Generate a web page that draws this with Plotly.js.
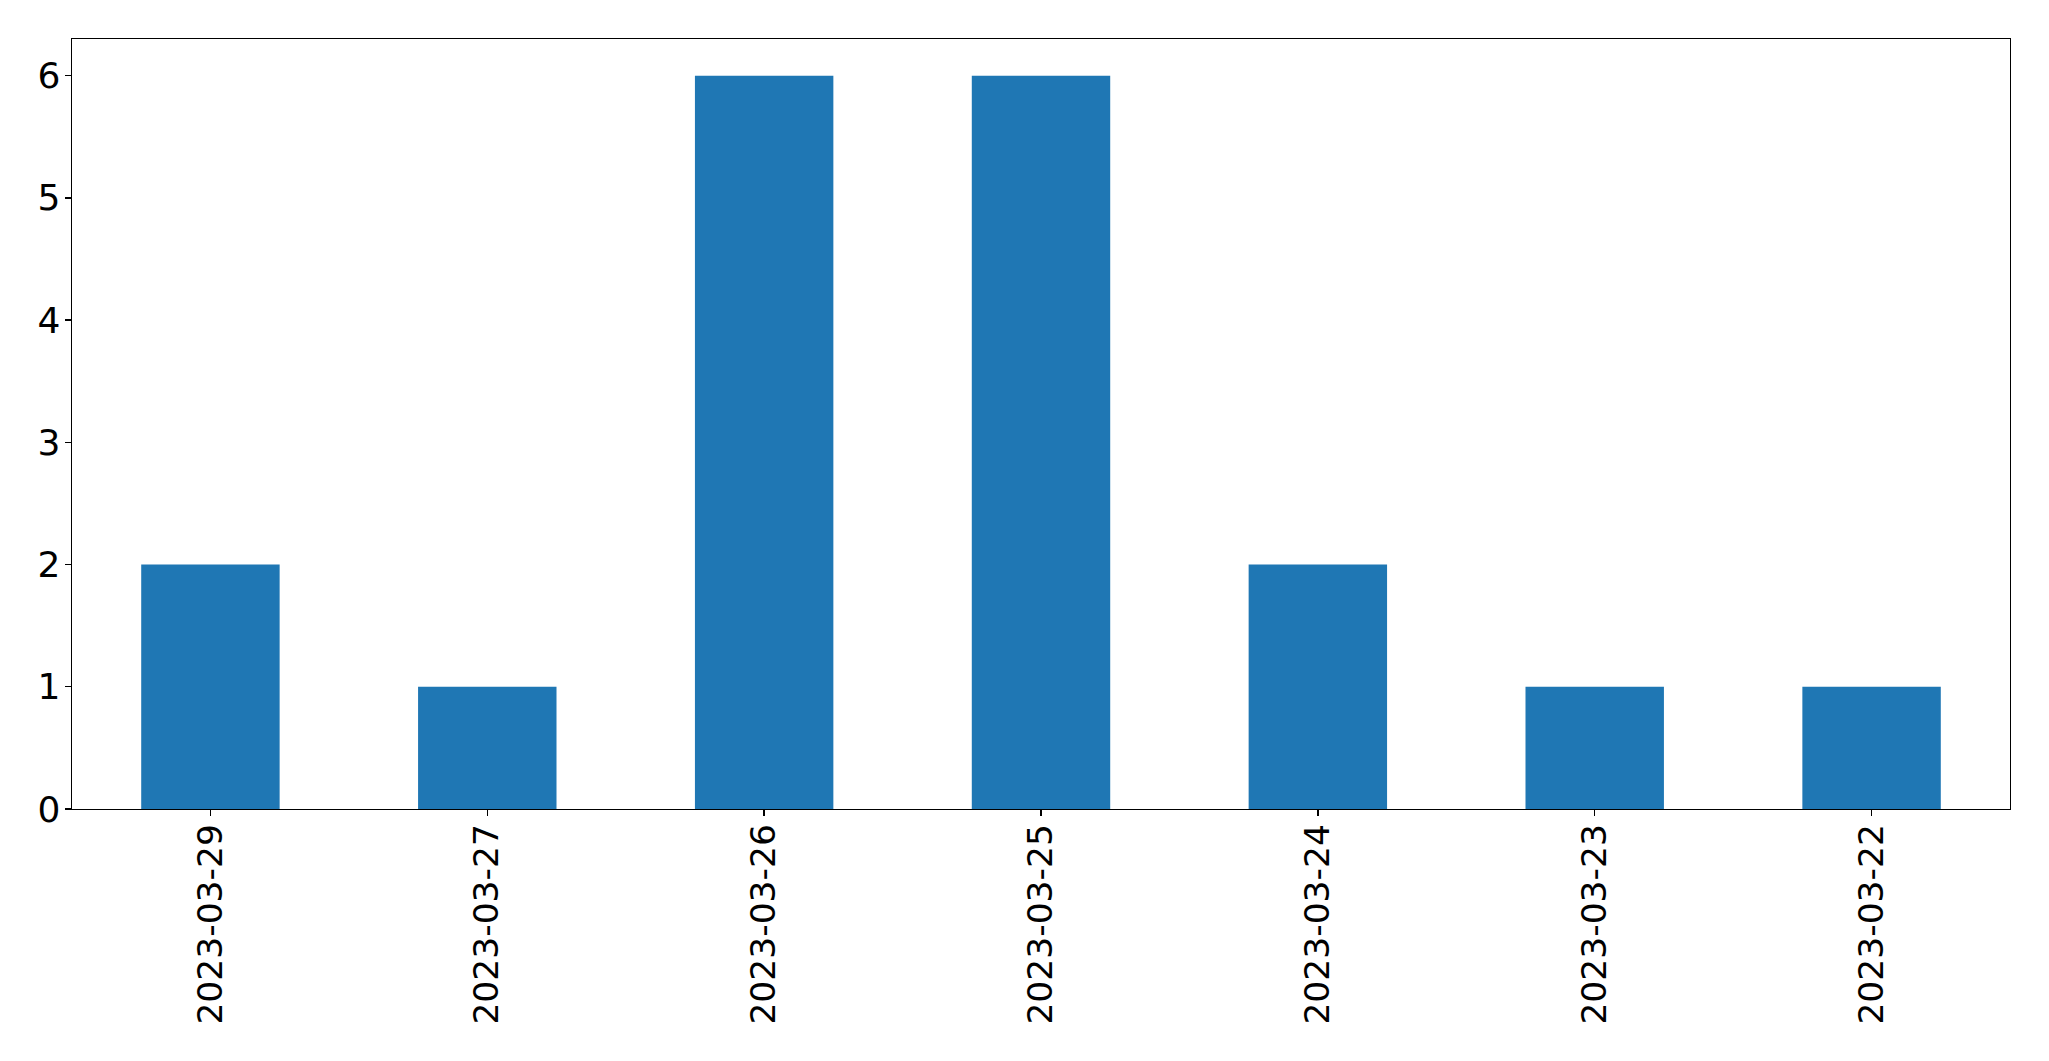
<!DOCTYPE html>
<html>
<head>
<meta charset="utf-8">
<script src="https://cdn.plot.ly/plotly-3.0.1.min.js"></script>
<style>html,body{margin:0;padding:0;background:#fff;}#chart{width:2049px;height:1061px;}</style>
</head>
<body>
<div id="chart"></div>
<script>
const categories = ["2023-03-29", "2023-03-27", "2023-03-26", "2023-03-25", "2023-03-24", "2023-03-23", "2023-03-22"];
const counts = [2, 1, 6, 6, 2, 1, 1];
const yTicks = [0, 1, 2, 3, 4, 5, 6];

const trace = {
  type: "bar",
  x: categories,
  y: counts,
  width: 0.5,
  marker: {color: "#1f77b4", line: {width: 0}},
  hoverinfo: "x+y"
};

const axisCommon = {
  showgrid: false,
  zeroline: false,
  showline: true,
  linecolor: "#000",
  linewidth: 1.3,
  mirror: true,
  ticks: "outside",
  ticklen: 6,
  tickwidth: 1.3,
  tickcolor: "#000"
};

const layout = {
  width: 2049,
  height: 1061,
  margin: {l: 72, r: 39, t: 39, b: 252},
  paper_bgcolor: "#fff",
  plot_bgcolor: "#fff",
  showlegend: false,
  bargap: 0.5,
  xaxis: Object.assign({}, axisCommon, {
    type: "category",
    range: [-0.5, 6.5],
    tickangle: -90,
    ticklabelstandoff: -6,
    tickfont: {family: "DejaVu Sans", size: 34.5, color: "#000"}
  }),
  yaxis: Object.assign({}, axisCommon, {
    range: [0, 6.3],
    tickmode: "array",
    tickvals: yTicks,
    ticktext: yTicks.map(String),
    ticklabelstandoff: -3,
    tickfont: {family: "DejaVu Sans", size: 36, color: "#000"}
  })
};

Plotly.newPlot("chart", [trace], layout, {displayModeBar: false, staticPlot: true});
</script>
</body>
</html>
